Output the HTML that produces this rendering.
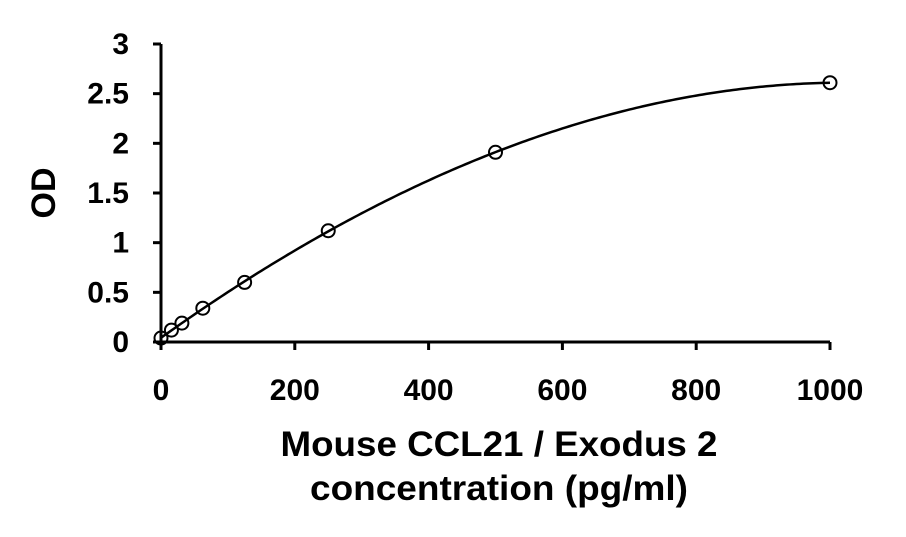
<!DOCTYPE html>
<html><head><meta charset="utf-8"><style>
body{margin:0;background:#fff;}
svg text{font-family:"Liberation Sans",Arial,sans-serif;font-weight:bold;fill:#000;}
</style></head><body>
<svg width="906" height="532" viewBox="0 0 906 532" xmlns="http://www.w3.org/2000/svg">
<g id="axes"></g>
<g id="marks"></g>
<text transform="translate(55,193) rotate(-90)" text-anchor="middle" font-size="34">OD</text>
<text x="499" y="456" text-anchor="middle" font-size="35" textLength="437" lengthAdjust="spacingAndGlyphs">Mouse CCL21 / Exodus 2</text>
<text x="499" y="500" text-anchor="middle" font-size="35" textLength="378" lengthAdjust="spacingAndGlyphs">concentration (pg/ml)</text>
</svg>
<script>
const xTicks=[0,200,400,600,800,1000];
const yTicks=[0,0.5,1,1.5,2,2.5,3];
const yTickLabels=["0","0.5","1","1.5","2","2.5","3"];
const conc=[0,15.6,31.25,62.5,125,250,500,1000];
const od=[0.04,0.12,0.19,0.34,0.6,1.12,1.91,2.61];
const X=v=>161+v*(830-161)/1000;
const Y=v=>342-v*(342-44)/3;
const NS="http://www.w3.org/2000/svg";
function mk(t,a,p){const e=document.createElementNS(NS,t);for(const k in a)e.setAttribute(k,a[k]);p.appendChild(e);return e;}
const ax=document.getElementById('axes'),mg=document.getElementById('marks');
let e=mk('line',{x1:X(0),y1:Y(0),x2:X(1000),y2:Y(0),stroke:'#000','stroke-width':3},ax);

e=mk('line',{x1:X(0),y1:Y(0)+8,x2:X(0),y2:Y(3),stroke:'#000','stroke-width':3},ax);

xTicks.forEach(v=>{
 let t=mk('line',{x1:X(v),y1:Y(0),x2:X(v),y2:Y(0)+8,stroke:'#000','stroke-width':3},ax);
 
 let l=mk('text',{x:X(v),y:400,'text-anchor':'middle','font-size':30},ax);l.textContent=v;
 
});
yTicks.forEach((v,i)=>{
 let t=mk('line',{x1:X(0)-8,y1:Y(v),x2:X(0),y2:Y(v),stroke:'#000','stroke-width':3},ax);
 
 let l=mk('text',{x:129,y:Y(v)+10,'text-anchor':'end','font-size':30},ax);l.textContent=yTickLabels[i];
 
});
// cubic least squares fit (x scaled)
const deg=3,s=1000;
const A=[],B=[];
for(let r=0;r<=deg;r++){A.push(new Array(deg+1).fill(0));B.push(0);}
conc.forEach((c,i)=>{const x=c/s;for(let r=0;r<=deg;r++){for(let k=0;k<=deg;k++)A[r][k]+=Math.pow(x,r+k);B[r]+=od[i]*Math.pow(x,r);}});
for(let i=0;i<=deg;i++){for(let j=i+1;j<=deg;j++){const f=A[j][i]/A[i][i];for(let k=i;k<=deg;k++)A[j][k]-=f*A[i][k];B[j]-=f*B[i];}}
const co=new Array(deg+1).fill(0);
for(let i=deg;i>=0;i--){let v=B[i];for(let k=i+1;k<=deg;k++)v-=A[i][k]*co[k];co[i]=v/A[i][i];}
const f=c=>{const x=c/s;let v=0;for(let k=0;k<=deg;k++)v+=co[k]*Math.pow(x,k);return v;};
const cMax=Math.max(...conc);
let d='';
for(let i=0;i<=200;i++){const c=cMax*i/200;d+=(i?'L':'M')+X(c).toFixed(2)+','+Y(f(c)).toFixed(2);}
e=mk('path',{d:d,fill:'none',stroke:'#000','stroke-width':2.5},mg);

conc.forEach((c,i)=>{
 let p=mk('circle',{cx:X(c),cy:Y(od[i]),r:6.5,fill:'none',stroke:'#000','stroke-width':2},mg);
 
});
</script>
</body></html>
